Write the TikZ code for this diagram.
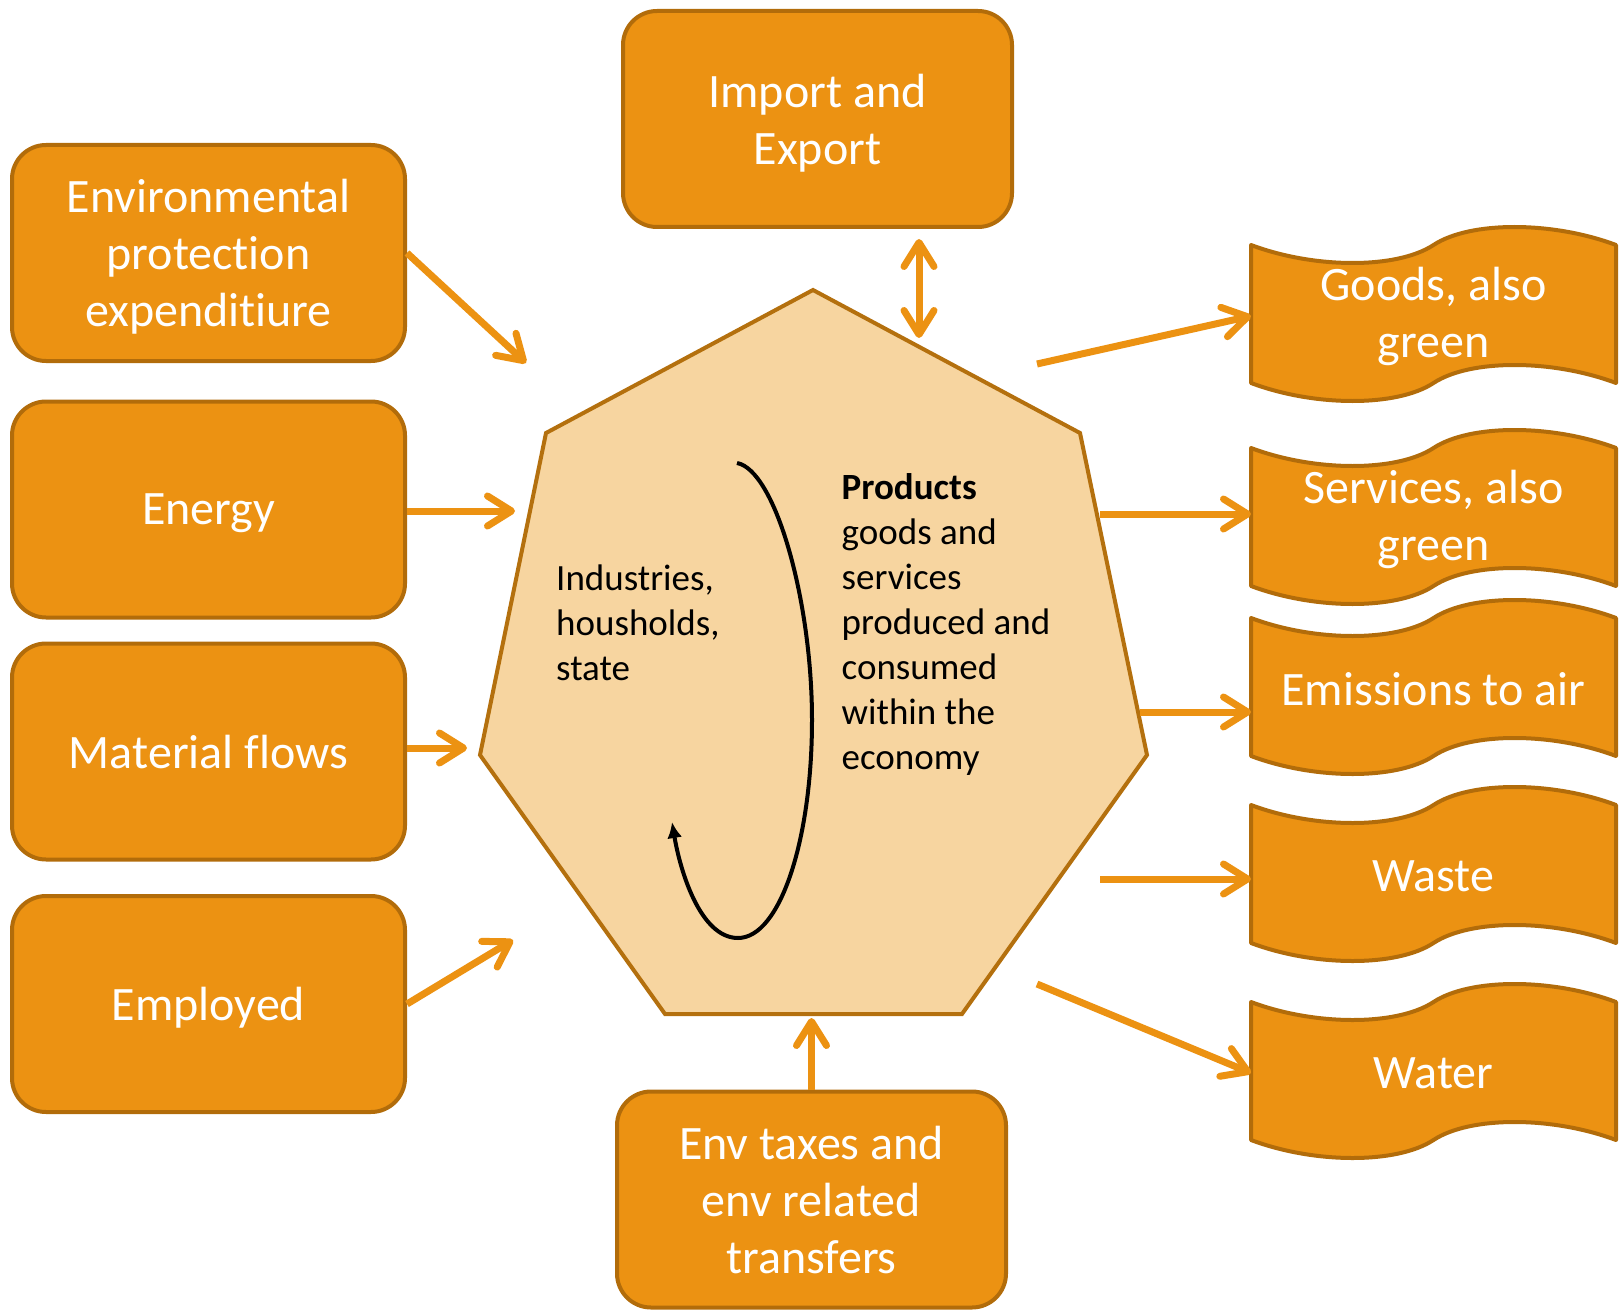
\documentclass[tikz,border=0pt]{standalone}
\usepackage{fontspec}
\setmainfont{Carlito}[Ligatures=NoCommon]
\usepackage{xcolor}
\usetikzlibrary{positioning,arrows.meta,calc}

\definecolor{boxfill}{RGB}{236,146,18}
\definecolor{boxline}{RGB}{178,108,10}
\definecolor{heptfill}{RGB}{247,213,160}
\definecolor{heptline}{RGB}{180,112,14}

% banner shape: name, top y, text
\newcommand\wavebox[3]{%
  \begin{scope}[shift={(1251,#2)}]
    \draw[waveline] (0,0) .. controls (64,24) and (146,24) .. (182.5,0)
      .. controls (219,-24) and (301,-24) .. (365,0) -- (365,138)
      .. controls (301,114) and (219,114) .. (182.5,138)
      .. controls (146,162) and (64,162) .. (0,138) -- cycle;
    \node[wavetext] (#1) at (182.5,71) {#3};
  \end{scope}}

\begin{document}
\begin{tikzpicture}[
    x=1pt,y=-1pt,
    >={Straight Barb[round,length=24pt,width=30pt]},
    boxstyle/.style={draw=boxline,fill=boxfill,line width=4pt,rounded corners=34pt,
      minimum width=393pt,minimum height=216pt,align=center,text=white,text depth=0pt,
      font=\fontsize{48}{57}\selectfont},
    waveline/.style={draw=boxline,fill=boxfill,line width=4pt,line join=round},
    wavetext/.style={minimum width=365pt,inner sep=0pt,outer sep=0pt,align=center,
      text=white,font=\fontsize{48}{57}\selectfont},
    inner/.style={anchor=west,align=left,inner sep=0pt,font=\fontsize{37}{45}\selectfont},
    flow/.style={->,draw=boxfill,line width=7pt},
    loopline/.style={-{Latex[length=16pt,width=15pt]},line width=4pt}
]
\useasboundingbox (0,0) rectangle (1623,1316);

% centre: economy
\coordinate (h1) at (813,290);
\coordinate (h2) at (1080,433);
\coordinate (h3) at (1147,755);
\coordinate (h4) at (962,1014);
\coordinate (h5) at (665,1014);
\coordinate (h6) at (480,755);
\coordinate (h7) at (546,433);
\draw[fill=heptfill,draw=heptline,line width=4pt,line join=miter]
  (h1) -- (h2) -- (h3) -- (h4) -- (h5) -- (h6) -- (h7) -- cycle;

\node[inner] (agents) at (556,623) {Industries,\\housholds,\\state};
\node[inner] (prod) at (841.5,624) {\textbf{Products}\\goods and\\services\\produced and\\consumed\\within the\\economy};
\draw[loopline] (737,463) .. controls (775,470) and (812,600) .. (812,720)
  .. controls (812,840) and (780,938) .. (738,938)
  .. controls (700,938) and (680,870) .. (672,822);

% inputs
\node[boxstyle] (env) at (208.5,253) {Environmental\\protection\\expenditiure};
\node[boxstyle] (energy) at (208.5,509.5) {Energy};
\node[boxstyle] (mat) at (208.5,751.5) {Material flows};
\node[boxstyle] (emp) at (208.5,1004) {Employed};
\node[boxstyle,minimum width=389pt] (imp) at (817.5,119) {Import and\\Export};
\node[boxstyle,minimum width=389pt] (tax) at (811.5,1199.5) {Env taxes and\\env related\\transfers};

\coordinate (envIn) at (526,363);
\coordinate (enIn) at (515,511);
\coordinate (matIn) at (467,748);
\coordinate (empIn) at (513,940);
\coordinate (impIn) at (919,338);
\coordinate (taxIn) at (811.5,1018);

\draw[flow] (env.east) -- (envIn);
\draw[flow] (energy.east |- enIn) -- (enIn);
\draw[flow] (mat.east |- matIn) -- (matIn);
\draw[flow] (emp.east) -- (empIn);
\draw[flow,<->] ([yshift=-10pt]imp.south -| impIn) -- (impIn);
\draw[flow] (tax.north) -- (taxIn);

% outputs
\wavebox{goods}{245}{Goods, also\\green}
\wavebox{serv}{448}{Services, also\\green}
\wavebox{emis}{618}{Emissions to air}
\wavebox{waste}{805}{Waste}
\wavebox{water}{1002}{Water}

\coordinate (goodsOut) at (1037,364);
\coordinate (servOut) at (1100,514);
\coordinate (emisOut) at (1140,712);
\coordinate (wasteOut) at (1100,879);
\coordinate (waterOut) at (1037,984);

\draw[flow] (goodsOut) -- (goods.west);
\draw[flow] (servOut) -- (servOut -| serv.west);
\draw[flow] (emisOut) -- (emisOut -| emis.west);
\draw[flow] (wasteOut) -- (wasteOut -| waste.west);
\draw[flow] (waterOut) -- (water.west);
\end{tikzpicture}
\end{document}
